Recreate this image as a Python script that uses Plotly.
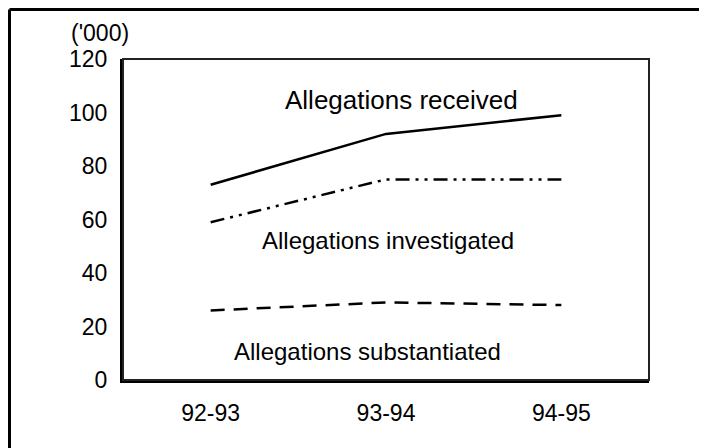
import plotly.graph_objects as go

years = ["92-93", "93-94", "94-95"]
received = [73, 92, 99]
investigated = [59, 75, 75]
substantiated = [26, 29, 28]

series = [
    ("Allegations received", received, "solid"),
    ("Allegations investigated", investigated, "14px,6px,3px,6px,3px,6px"),
    ("Allegations substantiated", substantiated, "14px,9px"),
]

fig = go.Figure()
for name, vals, dash in series:
    fig.add_trace(go.Scatter(x=years, y=vals, name=name, mode="lines",
                             line=dict(color="black", width=2.5, dash=dash)))

font = "Liberation Sans, Arial, sans-serif"

# series labels written into the plot instead of a legend
labels = [
    ("Allegations received", 1.086, 104.7, 26),
    ("Allegations investigated", 1.011, 52, 24),
    ("Allegations substantiated", 0.892, 10.5, 24),
]
for text, x, y, size in labels:
    fig.add_annotation(x=x, y=y, xref="x", yref="y", text=text, showarrow=False,
                       xanchor="center", yanchor="middle",
                       font=dict(size=size, color="black", family=font))

fig.add_annotation(x=-0.044, y=1.081, xref="paper", yref="paper", text="('000)",
                   showarrow=False, xanchor="center", yanchor="middle",
                   font=dict(size=23, color="black", family=font))

# box round the plot area
fig.add_shape(type="rect", xref="paper", yref="paper", x0=0, x1=1, y0=0, y1=1,
              line=dict(color="#222222", width=2))
# outer frame: only its left and top edges fall inside the picture
fx = -113.5 / 526
fy = 1 + 49.5 / 321
fig.add_shape(type="line", xref="paper", yref="paper", x0=fx, x1=fx, y0=-0.3, y1=fy,
              line=dict(color="black", width=3))
fig.add_shape(type="line", xref="paper", yref="paper", x0=fx, x1=1.2, y0=fy, y1=fy,
              line=dict(color="black", width=3))

fig.update_layout(
    width=707,
    height=448,
    margin=dict(l=115, r=66, t=51, b=76),
    plot_bgcolor="white",
    paper_bgcolor="white",
    showlegend=False,
    font=dict(family=font, color="black", size=23),
    xaxis=dict(range=[-0.5, 2.5], showgrid=False, zeroline=False, showline=True,
               linecolor="black", linewidth=3, ticks="", ticklabelstandoff=10,
               tickfont=dict(size=23)),
    yaxis=dict(range=[0, 120], dtick=20, showgrid=False, zeroline=False, showline=True,
               linecolor="black", linewidth=3, ticks="", ticklabelstandoff=8,
               tickfont=dict(size=23)),
)

fig.write_html("out.html")
